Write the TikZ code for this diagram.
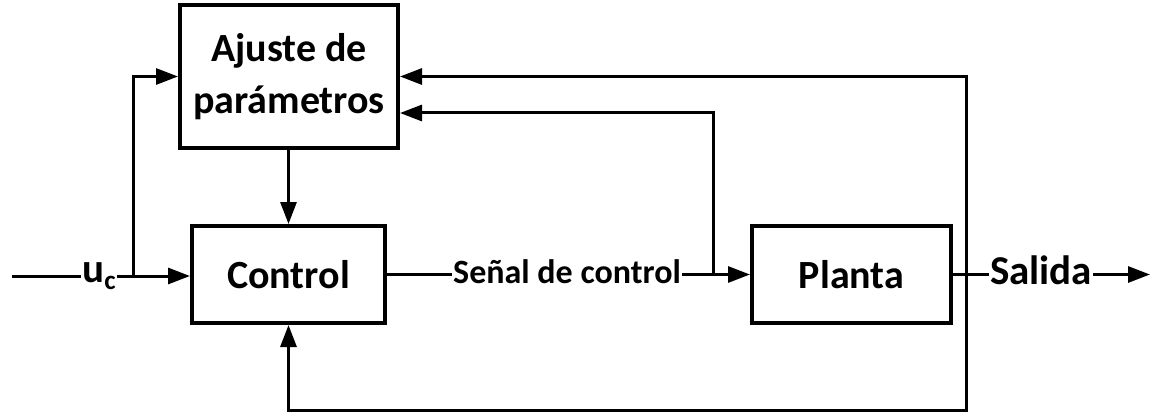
\documentclass[tikz,border=0pt]{standalone}
\usepackage{fontspec}
\setmainfont{Carlito}
\usetikzlibrary{arrows.meta}

\tikzset{
  bloque/.style={draw, line width=4pt, align=center, inner sep=0pt,
    font=\bfseries\fontsize{40}{52}\selectfont},
  flecha/.style={line width=3pt, -{Triangle[length=22pt,width=16pt]}},
  linea/.style={line width=3pt},
  etiqueta/.style={fill=white, inner sep=1pt, font=\bfseries\fontsize{#1}{#1}\selectfont},
}

\begin{document}
\begin{tikzpicture}[x=1pt, y=-1pt]
  \useasboundingbox (0,0) rectangle (1158,417);

  % bloques
  \node[bloque, minimum width=218pt, minimum height=143pt] (ajuste) at (289,76.5) {Ajuste de\\parámetros};
  \node[bloque, minimum width=193pt, minimum height=97pt] (control) at (288.5,274.5) {Control};
  \node[bloque, minimum width=199pt, minimum height=97pt] (planta) at (851.5,274.5) {Planta};

  % puntos auxiliares
  \coordinate (entrada) at (12,276);
  \coordinate (rama uc) at (133,276);
  \coordinate (rama u) at (713,274.5);
  \coordinate (rama y) at (966,274.5);
  \coordinate (salida) at (1150,274.5);

  % entrada de referencia
  \draw[linea] (entrada) -- (rama uc);
  \draw[flecha] (rama uc) -- (control.west |- rama uc);
  \draw[flecha] (rama uc) |- (ajuste.west);
  \node[etiqueta=41] (uc) at (99,276) {u\raisebox{-0.35ex}{\fontsize{27}{27}\selectfont c}};

  % ajuste a control
  \draw[flecha] (ajuste.south -| control.north) -- (control.north);

  % señal de control
  \draw[flecha] (control.east) -- (planta.west);
  \node[etiqueta=34] (u) at (567,272) {Señal de control};
  \draw[flecha] (rama u) |- (ajuste.east |- 0,113);

  % salida y realimentación
  \draw[flecha] (planta.east) -- (salida);
  \node[etiqueta=41] (y) at (1041,270) {Salida};
  \draw[flecha] (rama y) |- (ajuste.east);
  \draw[flecha] (rama y) -- (966,410) -| (control.south);
\end{tikzpicture}
\end{document}
